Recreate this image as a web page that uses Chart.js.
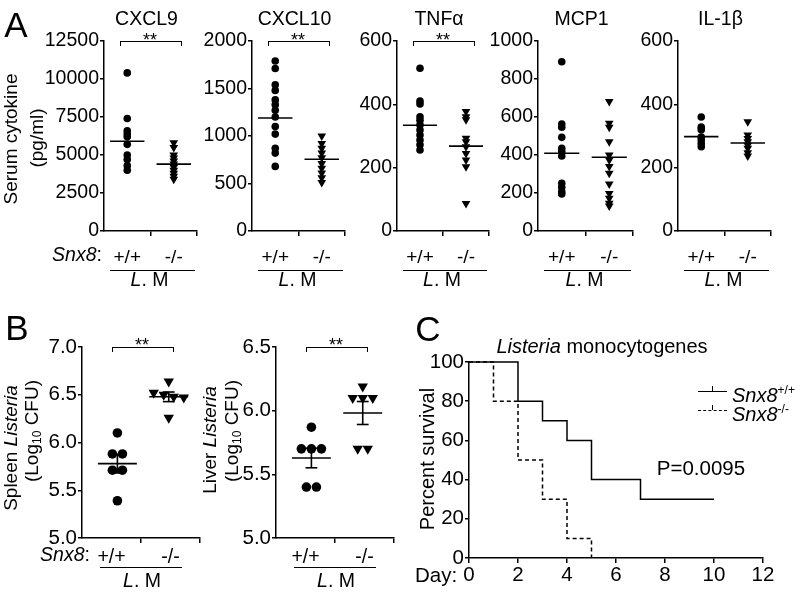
<!DOCTYPE html>
<html>
<head>
<meta charset="utf-8">
<script src="https://cdn.jsdelivr.net/npm/chart.js@4.4.0/dist/chart.umd.min.js"></script>
<style>
  body { margin: 0; background: #fff; }
  #page { position: relative; width: 796px; height: 594px; overflow: hidden; font-family: "Liberation Sans", Arial, sans-serif; color: #000; }
  #page canvas { position: absolute; left: 0; top: 0; pointer-events: none; }
  .t { position: absolute; white-space: nowrap; line-height: 1; transform: translate(-50%, -50%); }
  .t.v { transform: translate(-50%, -50%) rotate(-90deg); }
  .t.l { transform: translate(0, -50%); }
  .br { position: absolute; border: 1.5px solid #000; border-bottom: none; height: 4px; }
  .ul { position: absolute; border-top: 1.5px solid #000; height: 0; }
  .lg { position: absolute; width: 29px; height: 0; border-top: 1.5px solid #000; }
  .tk { position: absolute; width: 0; height: 5px; border-left: 1.5px solid #000; }
  sup { font-size: 12px; vertical-align: 8px; }
  sub { font-size: 12px; vertical-align: -3px; }
</style>
</head>
<body>
<div id="page"></div>
<script>
// ---- data ----
const groups = ['+/+', '-/-'];

// panel A, serum cytokines (pg/ml)
const cxcl9Wt = [10400, 7400, 6600, 6400, 6200, 5700, 5000, 4700, 4300, 4000];
const cxcl9Ko = [5800, 5500, 5000, 4800, 4600, 4400, 4200, 4000, 3800, 3600, 3400];
const cxcl9Mean = [5900, 4400];
const cxcl10Wt = [1790, 1710, 1540, 1480, 1380, 1330, 1270, 1200, 1100, 1020, 870, 820, 680];
const cxcl10Ko = [1000, 920, 870, 820, 770, 710, 660, 610, 560, 510];
const cxcl10Mean = [1190, 755];
const tnfWt = [514, 410, 401, 361, 350, 335, 319, 303, 287, 272, 256];
const tnfKo = [377, 361, 351, 293, 282, 266, 245, 224, 203, 87];
const tnfMean = [334, 268];
const mcp1Wt = [891, 563, 546, 493, 435, 418, 395, 251, 230, 207, 195];
const mcp1Ko = [681, 567, 546, 470, 400, 374, 339, 304, 247, 198, 172, 146, 132];
const mcp1Mean = [409, 388];
const il1bWt = [360, 328, 320, 297, 287, 276, 266];
const il1bKo = [345, 303, 292, 282, 271, 261, 247, 237];
const il1bMean = [298, 278];

// panel B, bacterial load (log10 CFU)
const spleenWt = [6.10, 5.88, 5.88, 5.71, 5.71, 5.39];
const spleenKo = [6.64, 6.52, 6.50, 6.48, 6.47, 6.26];
const liverWt = [5.87, 5.70, 5.70, 5.70, 5.40, 5.40];
const liverKo = [6.19, 6.10, 6.10, 6.10, 5.70, 5.70];

// panel C, survival
const survDaysWt = [0, 2, 3, 4, 5, 7, 10];
const survWt = [100, 80, 70, 60, 40, 30, 30];
const survDaysKo = [0, 1, 2, 3, 4, 5];
const survKo = [100, 80, 50, 30, 10, 0];

// ---- helpers ----
const W = 796, H = 594;
const FONT = '"Liberation Sans", Arial, sans-serif';
Chart.defaults.font.family = FONT;
Chart.defaults.color = '#000';
const page = document.getElementById('page');

function text(html, x, y, size, cls) {
  const d = document.createElement('div');
  d.className = 't' + (cls ? ' ' + cls : '');
  d.style.left = x + 'px';
  d.style.top = y + 'px';
  d.style.fontSize = size + 'px';
  d.innerHTML = html;
  page.appendChild(d);
}
function box(cls, x, y, w, h) {
  const d = document.createElement('div');
  d.className = cls;
  d.style.left = x + 'px';
  d.style.top = y + 'px';
  if (w != null) d.style.width = w + 'px';
  if (h != null) d.style.height = h + 'px';
  page.appendChild(d);
  return d;
}

// spread equal values side by side (beeswarm-ish)
function swarm(vals, center, tol, step) {
  const s = vals.slice().sort((a, b) => b - a);
  const pts = [];
  let i = 0;
  while (i < s.length) {
    let j = i;
    while (j + 1 < s.length && s[i] - s[j + 1] <= tol) j++;
    const n = j - i + 1;
    for (let k = 0; k < n; k++) pts.push({ x: center + (k - (n - 1) / 2) * step, y: s[i + k] });
    i = j + 1;
  }
  return pts;
}
const meanOf = a => a.reduce((p, v) => p + v, 0) / a.length;
const semOf = a => {
  const m = meanOf(a);
  const sd = Math.sqrt(a.reduce((p, v) => p + (v - m) * (v - m), 0) / (a.length - 1));
  return sd / Math.sqrt(a.length);
};
const seg = (x0, y0, x1, y1) => ({
  data: [{ x: x0, y: y0 }, { x: x1, y: y1 }],
  showLine: true, pointRadius: 0, borderColor: '#000', borderWidth: 1.6, clip: false, order: 0
});
const dots = (pts, style, r) => ({
  data: pts, pointStyle: style, pointRadius: r, pointRotation: style === 'triangle' ? 180 : 0,
  backgroundColor: '#000', borderColor: '#000', borderWidth: 0, showLine: false, clip: false, order: 1
});

function yAxis(min, max, step, size, digits) {
  return {
    type: 'linear', min: min, max: max,
    ticks: { stepSize: step, padding: 1, font: { size: size }, callback: v => v.toFixed(digits) },
    grid: { drawOnChartArea: false, tickLength: 4, color: '#000', lineWidth: 1.5 },
    border: { color: '#000', width: 1.5 }
  };
}
function groupAxis(size, pad) {
  return {
    type: 'linear', min: 0, max: 2,
    afterBuildTicks: s => { s.ticks = [0, 0.5, 1, 1.5, 2].map(v => ({ value: v })); },
    ticks: {
      autoSkip: false, maxRotation: 0, padding: pad, font: { size: size },
      callback: v => v === 0.5 ? groups[0] : v === 1.5 ? groups[1] : ''
    },
    grid: {
      drawOnChartArea: false, tickLength: 5, lineWidth: 1.5,
      color: c => (c.tick && (c.tick.value === 1 || c.tick.value === 2)) ? '#000' : 'rgba(0,0,0,0)'
    },
    border: { color: '#000', width: 1.5 }
  };
}

function makeChart(area, xOpts, yOpts, datasets, yW, xH) {
  const cv = document.createElement('canvas');
  cv.width = W;
  cv.height = H;
  page.appendChild(cv);
  xOpts.afterFit = s => { s.height = xH; };
  yOpts.afterFit = s => { s.width = yW; };
  return new Chart(cv, {
    type: 'scatter',
    data: { datasets: datasets },
    options: {
      responsive: false, animation: false, events: [],
      layout: { padding: { left: area.l - yW, top: area.t, right: W - area.r, bottom: H - area.b - xH } },
      plugins: { legend: { display: false }, tooltip: { enabled: false } },
      scales: { x: xOpts, y: yOpts }
    }
  });
}

// ---- panel A ----
const panelA = [
  { title: 'CXCL9', wt: cxcl9Wt, ko: cxcl9Ko, mean: cxcl9Mean, max: 12500, step: 2500, l: 104, r: 197, sig: true },
  { title: 'CXCL10', wt: cxcl10Wt, ko: cxcl10Ko, mean: cxcl10Mean, max: 2000, step: 500, l: 252, r: 345, sig: true },
  { title: 'TNF&alpha;', wt: tnfWt, ko: tnfKo, mean: tnfMean, max: 600, step: 200, l: 397, r: 489, sig: true },
  { title: 'MCP1', wt: mcp1Wt, ko: mcp1Ko, mean: mcp1Mean, max: 1000, step: 200, l: 538, r: 633, sig: false },
  { title: 'IL-1&beta;', wt: il1bWt, ko: il1bKo, mean: il1bMean, max: 600, step: 200, l: 678, r: 771, sig: false }
];
panelA.forEach(p => {
  const ds = [
    seg(0.5 - 0.37, p.mean[0], 0.5 + 0.37, p.mean[0]),
    seg(1.5 - 0.37, p.mean[1], 1.5 + 0.37, p.mean[1]),
    dots(swarm(p.wt, 0.5, 0, 0), 'circle', 3.8),
    dots(swarm(p.ko, 1.5, 0, 0), 'triangle', 5)
  ];
  makeChart({ l: p.l, r: p.r, t: 41, b: 231 }, groupAxis(19, 10), yAxis(0, p.max, p.step, 19.5, 0), ds, 60, 40);
  const cx = (p.l + p.r) / 2;
  text(p.title, cx - 4, 19, 19.5);
  box('ul', p.l + 6, 270, p.r - p.l - 8);
  text('<i>L</i>. M', cx - 1, 280, 19.5);
  if (p.sig) {
    box('br', p.l + 16, 41, 60, 4);
    text('**', p.l + 46, 40, 18);
  }
});
text('A', 16, 24, 35);
text('Serum cytokine', 10, 139, 19, 'v');
text('(pg/ml)', 36, 138, 19, 'v');
text('<i>Snx8</i>:', 77, 255, 19.5);

// ---- panel B ----
const panelB = [
  { wt: spleenWt, ko: spleenKo, max: 7.0, l: 82, r: 200 },
  { wt: liverWt, ko: liverKo, max: 6.5, l: 276, r: 394 }
];
const bCenters = [0.6, 1.47];
panelB.forEach(p => {
  const ds = [];
  [p.wt, p.ko].forEach((vals, gi) => {
    const c = bCenters[gi], m = meanOf(vals), e = semOf(vals);
    ds.push(seg(c - 0.33, m, c + 0.33, m));
    ds.push(seg(c, m - e, c, m + e));
    ds.push(seg(c - 0.1, m + e, c + 0.1, m + e));
    ds.push(seg(c - 0.1, m - e, c + 0.1, m - e));
  });
  ds.push(dots(swarm(p.wt, bCenters[0], 0.07, 0.17), 'circle', 4.8));
  ds.push(dots(swarm(p.ko, bCenters[1], 0.07, 0.17), 'triangle', 6));
  makeChart({ l: p.l, r: p.r, t: 347, b: 538 }, groupAxis(19.5, 3), yAxis(5.0, p.max, 0.5, 20.5, 1), ds, 60, 30);
  box('br', p.l + 30, 347, 60, 4);
  text('**', p.l + 60, 345, 18);
  box('ul', p.l + 18, 567, 82);
  text('<i>L</i>. M', p.l + 60, 581, 19.5);
});
text('B', 17, 327, 35);
text('Spleen <i>Listeria</i>', 10, 448, 19, 'v');
text('(Log<sub>10</sub> CFU)', 32, 431, 19, 'v');
text('Liver <i>Listeria</i>', 209, 440, 19, 'v');
text('(Log<sub>10</sub> CFU)', 232, 431, 19, 'v');
text('<i>Snx8</i>:', 65, 555, 19.5);

// ---- panel C ----
const survSet = (days, vals, dash) => ({
  data: days.map((d, i) => ({ x: d, y: vals[i] })),
  showLine: true, stepped: true, pointRadius: 0, borderColor: '#000', borderWidth: 1.5,
  borderDash: dash, clip: false
});
makeChart(
  { l: 469, r: 763, t: 362, b: 558 },
  {
    type: 'linear', min: 0, max: 12,
    ticks: { stepSize: 2, padding: 0, maxRotation: 0, font: { size: 20.5 } },
    grid: { drawOnChartArea: false, tickLength: 5, color: '#000', lineWidth: 1.5 },
    border: { color: '#000', width: 1.5 }
  },
  yAxis(0, 100, 20, 20.5, 0),
  [survSet(survDaysWt, survWt, []), survSet(survDaysKo, survKo, [4, 3])],
  60, 30
);
text('C', 428, 328, 35);
text('<i>Listeria</i> monocytogenes', 602, 346, 20);
text('Percent survival', 427, 459, 20, 'v');
text('Day:', 436, 575, 20.5);
box('lg', 698, 391);
box('tk', 712, 386);
text('<i>Snx8</i><sup>+/+</sup>', 732, 394, 20, 'l');
const dl = box('lg', 698, 410);
dl.style.borderTopStyle = 'dashed';
box('tk', 712, 405);
text('<i>Snx8</i><sup>-/-</sup>', 732, 413, 20, 'l');
text('P=0.0095', 701, 468, 20.5);
</script>
</body>
</html>
